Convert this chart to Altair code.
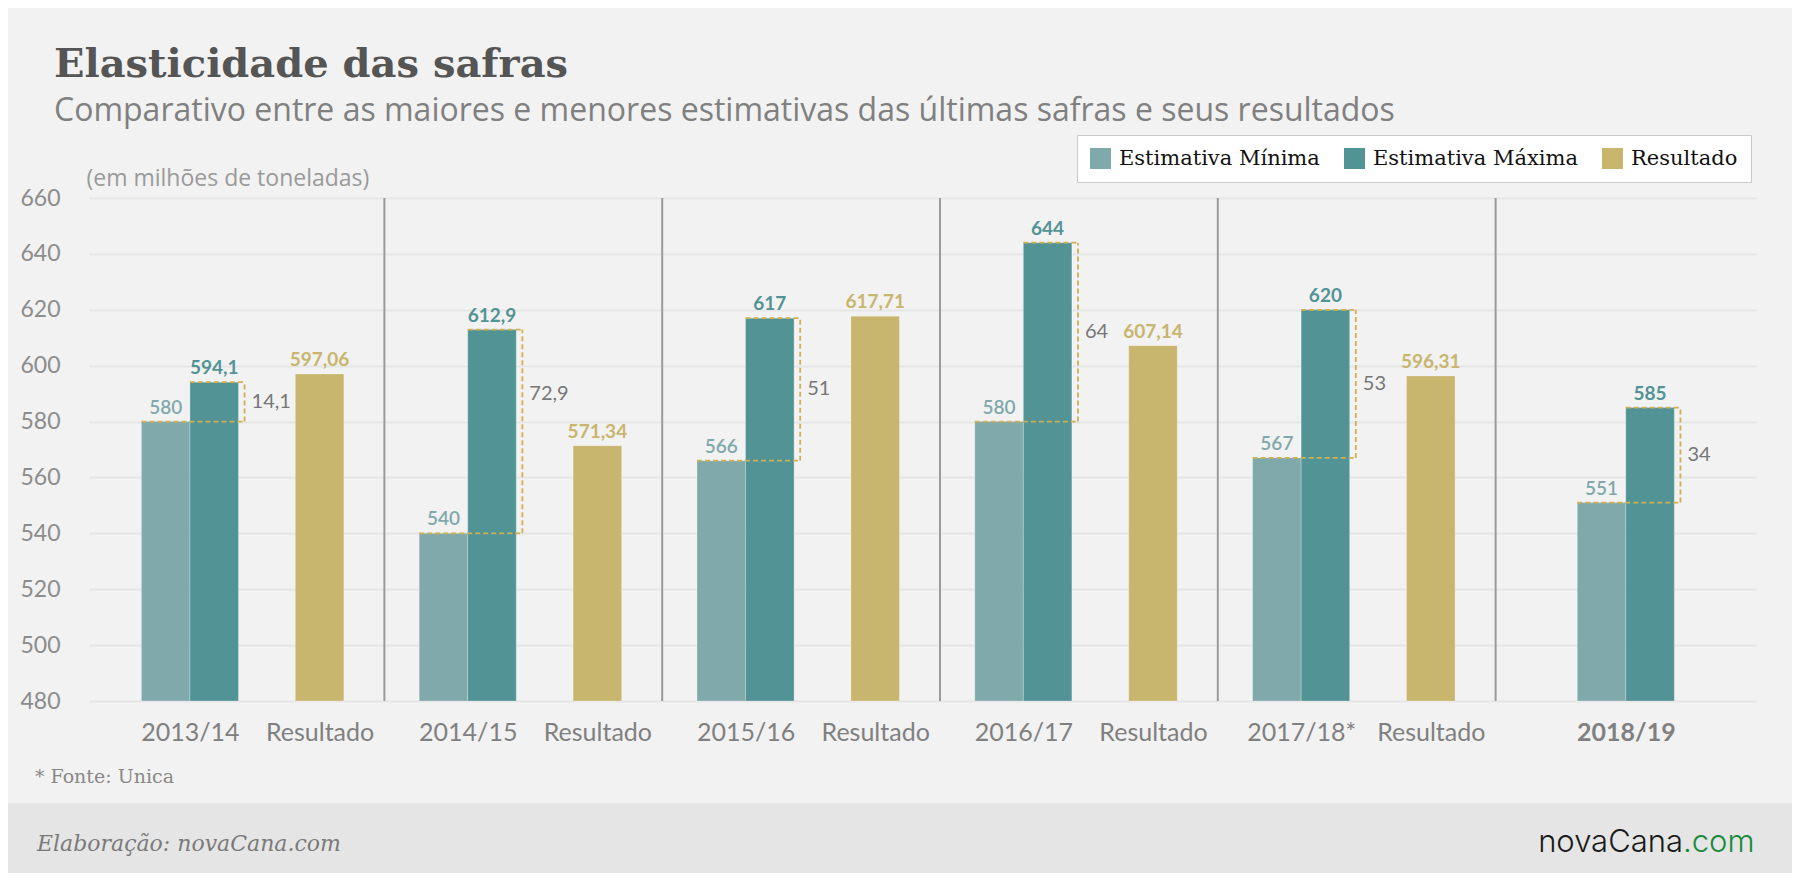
import altair as alt
import pandas as pd

# ---------------- data ----------------
TITLE = "Elasticidade das safras"
SUBTITLE = "Comparativo entre as maiores e menores estimativas das últimas safras e seus resultados"
UNIT_NOTE = "(em milhões de toneladas)"
SOURCE_NOTE = "* Fonte: Unica"
CREDIT = "Elaboração: novaCana.com"
BRAND = "novaCana"
BRAND_TLD = ".com"

SAFRAS = ["2013/14", "2014/15", "2015/16", "2016/17", "2017/18*", "2018/19"]
EST_MIN = [580, 540, 566, 580, 567, 551]
EST_MAX = [594.1, 612.9, 617, 644, 620, 585]
RESULTADO = [597.06, 571.34, 617.71, 607.14, 596.31, None]
RESULT_LABEL = "Resultado"
HIGHLIGHT = "2018/19"

SERIES = ["Estimativa Mínima", "Estimativa Máxima", "Resultado"]
COLORS = ["#7fa9aa", "#529396", "#c8b56e"]
Y_TICKS = [480, 500, 520, 540, 560, 580, 600, 620, 640, 660]

# ---------------- layout (styles / geometry, not data) ----------------
W, H = 1667, 503
PAD = {"left": 81, "top": 190, "right": 36, "bottom": 172}
X_DOMAIN = [-5.45, 84.56]      # x units
NEXT_PAIR = 4.5                # separator -> next pair centre
RES_SHIFT = 7                  # pair centre -> result centre
SEP_SHIFT = 10.5               # pair centre -> separator
BAR = 2.62                     # bar width
BRACKET = 0.33                 # bracket overhang past max bar
LABEL_FONT = "Lato"
GOLD_DASH = "#cfb055"
PX_PER_UNIT = H / (Y_TICKS[-1] - Y_TICKS[0])
# annotation nudge (pixels, upwards) to keep a difference label clear of a neighbouring label
DIFF_NUDGE_PX = {"2014/15": 37}


def br(v):
    s = f"{v:.2f}".rstrip("0").rstrip(".")
    return s.replace(".", ",")


# positions through the group structure
pair_c, res_c, seps = [], [], []
prev_sep = None
for i, r in enumerate(RESULTADO):
    if prev_sep is None:
        p = 0.0
    elif r is None:
        p = (prev_sep + X_DOMAIN[1]) / 2
    else:
        p = prev_sep + NEXT_PAIR
    pair_c.append(p)
    res_c.append(p + RES_SHIFT if r is not None else None)
    if i < len(RESULTADO) - 1:
        prev_sep = p + SEP_SHIFT
        seps.append(prev_sep)

bar_rows = []
for i, g in enumerate(SAFRAS):
    p = pair_c[i]
    bar_rows.append(dict(series=SERIES[0], x0=p - BAR, x1=p, v=EST_MIN[i], lab=br(EST_MIN[i])))
    bar_rows.append(dict(series=SERIES[1], x0=p, x1=p + BAR, v=EST_MAX[i], lab=br(EST_MAX[i])))
    if RESULTADO[i] is not None:
        c = res_c[i]
        bar_rows.append(dict(series=SERIES[2], x0=c - BAR / 2, x1=c + BAR / 2,
                             v=RESULTADO[i], lab=br(RESULTADO[i])))
bars_df = pd.DataFrame(bar_rows)
bars_df["xc"] = (bars_df["x0"] + bars_df["x1"]) / 2

br_rows = []
for i, g in enumerate(SAFRAS):
    p = pair_c[i]
    right = p + BAR + BRACKET
    mid = (EST_MIN[i] + EST_MAX[i]) / 2 + DIFF_NUDGE_PX.get(g, 0) / PX_PER_UNIT
    br_rows.append(dict(hx0=p - BAR, hx1=right, hy=EST_MIN[i], xr=right,
                        lo=EST_MIN[i], hi=EST_MAX[i], mid=mid,
                        d=br(round(EST_MAX[i] - EST_MIN[i], 2))))
    br_rows.append(dict(hx0=p, hx1=right, hy=EST_MAX[i], xr=None,
                        lo=None, hi=None, mid=None, d=None))
brk_df = pd.DataFrame(br_rows)
vert_df = brk_df.dropna(subset=["xr"])

sep_df = pd.DataFrame({"xs": seps})

# x axis labels
tick_vals, tick_labs = [], []
for i, g in enumerate(SAFRAS):
    tick_vals.append(round(pair_c[i], 4))
    tick_labs.append(g)
    if res_c[i] is not None:
        tick_vals.append(round(res_c[i], 4))
        tick_labs.append(RESULT_LABEL)
label_expr = "".join(f"abs(datum.value - {v}) < 0.01 ? '{l}' : " for v, l in zip(tick_vals, tick_labs)) + "''"
hi_val = tick_vals[tick_labs.index(HIGHLIGHT)]

XS = alt.Scale(domain=X_DOMAIN, nice=False, zero=False)
YS = alt.Scale(domain=[Y_TICKS[0], Y_TICKS[-1]], nice=False, zero=False)

X_AXIS = alt.Axis(values=tick_vals, labelExpr=label_expr, title=None, domain=False, ticks=False,
                  grid=False, labelFont=LABEL_FONT, labelFontSize=25, labelColor="#808080",
                  labelPadding=19, labelAlign="center", labelBaseline="top", labelFlush=False,
                  labelOverlap=False,
                  labelFontWeight=alt.condition(f"abs(datum.value - {hi_val}) < 0.01",
                                                alt.value("bold"), alt.value("normal")))
Y_AXIS = alt.Axis(values=Y_TICKS, title=UNIT_NOTE, titleAngle=0, titleX=-3, titleY=-20,
                  titleAlign="left", titleBaseline="middle", titleFont="Open Sans",
                  titleFontSize=23, titleFontWeight="normal", titleColor="#9a9a9a",
                  domain=False, ticks=False, grid=True, gridColor="#e6e6e6", gridWidth=2,
                  labelFont=LABEL_FONT, labelFontSize=23, labelColor="#8c8c8c",
                  labelPadding=29, labelFlush=False)

color_scale = alt.Scale(domain=SERIES, range=COLORS)

# ---------------- layers ----------------
footer = alt.Chart(pd.DataFrame({"a": [0]})).mark_rect(color="#e5e5e5").encode(
    x=alt.value(-PAD["left"]), x2=alt.value(W + PAD["right"]),
    y=alt.value(605), y2=alt.value(H + PAD["bottom"]))

separators = alt.Chart(sep_df).mark_rule(color="#9b9b9b", strokeWidth=2).encode(
    x=alt.X("xs:Q", scale=XS, axis=X_AXIS),
    y=alt.datum(Y_TICKS[-1]), y2=alt.datum(Y_TICKS[0]))

bars = alt.Chart(bars_df).mark_bar(stroke="white", strokeOpacity=0.25, strokeWidth=1).encode(
    x=alt.X("x0:Q", scale=XS, axis=X_AXIS),
    x2="x1:Q",
    y=alt.Y("v:Q", scale=YS, axis=Y_AXIS),
    y2=alt.datum(Y_TICKS[0]),
    color=alt.Color("series:N", scale=color_scale, sort=SERIES,
                    legend=alt.Legend(orient="none", legendX=988, legendY=-63,
                                      direction="horizontal", title=None,
                                      symbolType="square", symbolSize=440,
                                      symbolStrokeWidth=0, labelFont="DejaVu Serif",
                                      labelFontSize=21, labelColor="#111111", labelLimit=0,
                                      labelOffset=8, columnPadding=24, padding=13,
                                      fillColor="white", strokeColor="#c9c9c9")),
)

hlines = alt.Chart(brk_df).mark_rule(color=GOLD_DASH, strokeWidth=1.8, strokeDash=[5, 3]).encode(
    x=alt.X("hx0:Q", scale=XS, axis=X_AXIS), x2="hx1:Q",
    y=alt.Y("hy:Q", scale=YS, axis=Y_AXIS))

vlines = alt.Chart(vert_df).mark_rule(color=GOLD_DASH, strokeWidth=1.8, strokeDash=[5, 3]).encode(
    x=alt.X("xr:Q", scale=XS, axis=X_AXIS),
    y=alt.Y("lo:Q", scale=YS, axis=Y_AXIS), y2="hi:Q")

diff_text = alt.Chart(vert_df).mark_text(align="left", baseline="middle", dx=7,
                                         font=LABEL_FONT, fontSize=20, color="#777777").encode(
    x=alt.X("xr:Q", scale=XS, axis=X_AXIS),
    y=alt.Y("mid:Q", scale=YS, axis=Y_AXIS), text="d:N")


def value_labels(series, color, weight):
    return alt.Chart(bars_df).transform_filter(alt.datum.series == series).mark_text(
        align="center", baseline="alphabetic", dy=-8, font=LABEL_FONT, fontSize=19,
        fontWeight=weight, color=color).encode(
        x=alt.X("xc:Q", scale=XS, axis=X_AXIS),
        y=alt.Y("v:Q", scale=YS, axis=Y_AXIS), text="lab:N")


lab_min = value_labels(SERIES[0], COLORS[0], 600)
lab_max = value_labels(SERIES[1], COLORS[1], "bold")
lab_res = value_labels(SERIES[2], COLORS[2], "bold")


def note(text, x, y, **kw):
    return alt.Chart(pd.DataFrame({"t": [text]})).mark_text(baseline="alphabetic", **kw).encode(
        text="t:N", x=alt.value(x), y=alt.value(y))


title = note(TITLE, -35, -121, align="left", font="DejaVu Serif", fontWeight="bold",
             fontSize=40, color="#555555")
subtitle = note(SUBTITLE, -35, -77, align="left", font="Open Sans", fontSize=32, color="#808080")
source = note(SOURCE_NOTE, -54, 585, align="left", font="DejaVu Serif", fontSize=19, color="#888888")
credit = note(CREDIT, -52, 653, align="left", font="DejaVu Serif", fontStyle="italic",
              fontSize=22, color="#7a7a7a")
brand = note(BRAND, 1594, 654, align="right", font="Inter", fontWeight=300, fontSize=31,
             color="#1a1a1a")
brand_tld = note(BRAND_TLD, 1594, 654, align="left", font="Inter", fontWeight=300, fontSize=31,
                 color="#1a8a3c")

chart = alt.layer(
    footer, separators, bars, hlines, vlines, diff_text, lab_min, lab_max, lab_res,
    title, subtitle, source, credit, brand, brand_tld,
).properties(
    width=W, height=H, padding=PAD, autosize=alt.AutoSizeParams(type="none"),
    background="#f2f2f2",
).configure_view(stroke=None)

chart.save("out.html", embed_options={"renderer": "svg", "actions": False})
